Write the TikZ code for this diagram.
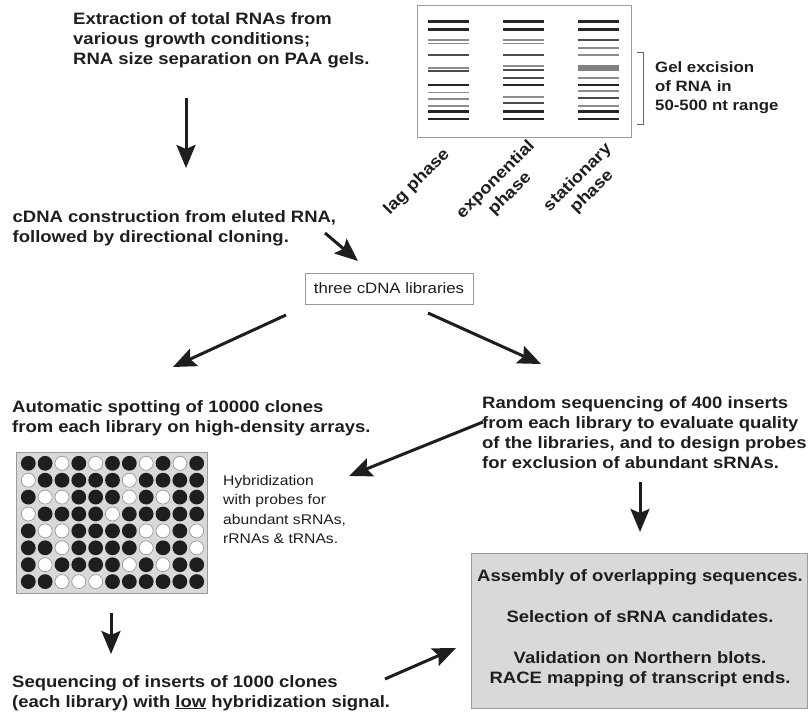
\documentclass[tikz,border=0pt]{standalone}
\usepackage{fontspec}
\setmainfont{Liberation Sans}[FakeStretch=1.12]
\usetikzlibrary{arrows.meta}

\definecolor{ink}{HTML}{1E1E1E}
\definecolor{panel}{HTML}{D9D9D9}
\definecolor{rim}{HTML}{9A9A9A}

\tikzset{
  stage/.style={anchor=base west, align=left, inner sep=0pt, text=ink,
    font=\bfseries\fontsize{16.5}{20}\selectfont},
  note/.style={anchor=base west, align=left, inner sep=0pt, text=ink,
    font=\fontsize{14}{19.5}\selectfont},
  flow/.style={line width=3pt, draw=ink, -{Stealth[length=23pt,width=19pt,inset=4pt]}},
  bandT/.style={line width=2.8pt, draw=black!85},
  bandM/.style={line width=2pt, draw=black!70},
  bandG/.style={line width=1.6pt, draw=black!45},
  bandW/.style={line width=3pt, draw=black!50},
}

\begin{document}
\begin{tikzpicture}[x=1pt,y=-1pt]
	\useasboundingbox (0,0) rectangle (809,712);

	% texts of the steps (base = last line)
	\node[stage] (extract) at (73,64.5) {Extraction of total RNAs from\\various growth conditions;\\RNA size separation on PAA gels.};
	\node[stage] (cdna) at (12.5,242) {cDNA construction from eluted RNA,\\followed by directional cloning.};
	\node[stage] (spotting) at (12,432) {Automatic spotting of 10000 clones\\from each library on high-density arrays.};
	\node[stage] (random) at (482,468) {Random sequencing of 400 inserts\\from each library to evaluate quality\\of the libraries, and to design probes\\for exclusion of abundant sRNAs.};
	\node[stage] (lowseq) at (12,707) {Sequencing of inserts of 1000 clones\\(each library) with \underline{low} hybridization signal.};
	\node[note] (hybrid) at (223,543.5) {Hybridization\\with probes for\\abundant sRNAs,\\rRNAs \& tRNAs.};

	% gel with three lanes
	\draw[rim, line width=0.8pt] (417,5) rectangle (631,137);
	\foreach \y/\s in {21.7/T,29.3/T,40/G,43.3/G,55/M,67.7/G,71/M,85/T,92.3/G,98.7/G,106/G,111.7/T,119/T}
		\draw[band\s] (428,\y) -- (469,\y);
	\foreach \y/\s in {21.7/T,29.3/T,40/G,43.3/G,55/M,66/G,70/M,77.7/M,85/T,96.7/G,102.7/M,111.7/T,119/T}
		\draw[band\s] (503,\y) -- (544,\y);
	\foreach \y/\s in {21.7/T,29.3/T,40/M,47.7/G,55/G,66/W,69/W,77.7/G,85/T,91/G,98.3/M,106/G,111.7/T,119/T}
		\draw[band\s] (578,\y) -- (619,\y);
	\draw[black!60, line width=0.9pt] (637,52) -- (643,52) -- (643,124) -- (637,124);
	\node[stage, font=\bfseries\fontsize{15}{19}\selectfont] (gel) at (655,110) {Gel excision\\of RNA in\\50-500 nt range};

	\node[stage, anchor=center, align=center, rotate=45] (lag) at (417,182) {lag phase};
	\node[stage, anchor=center, align=center, rotate=45] (expo) at (503,187) {exponential\\phase};
	\node[stage, anchor=center, align=center, rotate=45] (stat) at (585,185) {stationary\\phase};

	\node[draw=rim, line width=0.8pt, minimum width=168pt, minimum height=31pt, inner sep=0pt,
		text=ink, font=\fontsize{15}{18}\selectfont] (libs) at (389,288.5) {three cDNA libraries};

	% spotted array
	\draw[rim, fill=panel, line width=0.8pt] (16,452) rectangle (207,593);
	\foreach \row [count=\r] in {{1,1,0,1,0,1,1,0,1,0,1},{0,1,1,1,1,1,0,1,1,1,1},
		{1,0,0,1,1,1,0,1,0,1,1},{0,1,1,1,1,0,1,1,1,1,1},{1,0,0,1,1,1,1,0,0,1,0},
		{1,1,0,1,1,1,1,0,1,1,0},{1,0,1,1,1,1,0,1,0,1,1},{1,1,0,0,0,1,1,1,1,1,1}}
		\foreach \v [count=\c] in \row {
			\ifnum\v=1
				\fill[ink] ({28.3+(\c-1)*16.84},{463.3+(\r-1)*16.9}) circle (7.4);
			\else
				\draw[black!40, fill=white, line width=0.7pt] ({28.3+(\c-1)*16.84},{463.3+(\r-1)*16.9}) circle (7);
			\fi
		}

	% final analysis box
	\node[draw=rim, fill=panel, line width=0.8pt, minimum width=336pt, minimum height=155pt] (analysis) at (639,630.5) {};
	\node[stage, anchor=base] (assembly) at (640,581) {Assembly of overlapping sequences.};
	\node[stage, anchor=base] (select) at (640,622) {Selection of sRNA candidates.};
	\node[stage, anchor=base, align=center] (valid) at (640,683) {Validation on Northern blots.\\RACE mapping of transcript ends.};

	% arrow ends
	\coordinate (e1s) at (186,98);   \coordinate (e1t) at (186,168);
	\coordinate (e2s) at (325,233);  \coordinate (e2t) at (358,261);
	\coordinate (e3s) at (286,315);  \coordinate (e3t) at (173,367);
	\coordinate (e4s) at (428,313);  \coordinate (e4t) at (541,364);
	\coordinate (e5s) at (483,422);  \coordinate (e5t) at (349,476);
	\coordinate (e6s) at (640,482);  \coordinate (e6t) at (640,532);
	\coordinate (e7s) at (111,613);  \coordinate (e7t) at (111,654);
	\coordinate (e8s) at (385,679);  \coordinate (e8t) at (456,648);

	\foreach \a in {1,...,8}
		\draw[flow] (e\a s) -- (e\a t);
\end{tikzpicture}
\end{document}
